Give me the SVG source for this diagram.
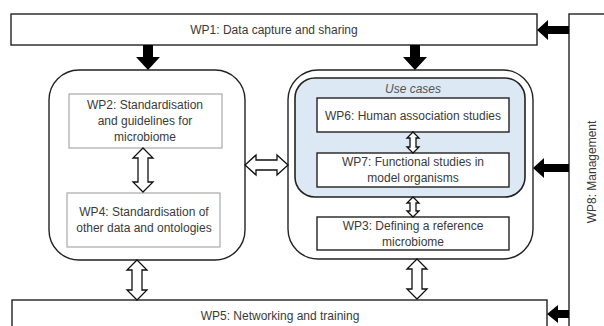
<svg xmlns="http://www.w3.org/2000/svg" width="604" height="326" viewBox="0 0 604 326">
<style>
.t{font-family:"Liberation Sans",Arial,sans-serif;font-size:12px;fill:#3a3a3a;text-anchor:middle;dominant-baseline:central}
.box{fill:#fff;stroke:#222;stroke-width:1.4}
.gbox{fill:#fff;stroke:#a8a8a8;stroke-width:1.2}
.cont{fill:#fff;stroke:#222;stroke-width:1.4}
.blue{fill:#dce8f4;stroke:#222;stroke-width:1.6}
.ha{fill:#fff;stroke:#111;stroke-width:1.3;stroke-linejoin:miter}
.ba{fill:#000;stroke:none}
</style>
<rect width="604" height="326" fill="#fff"/>
<g id="wp1"><rect class="box" x="11" y="14" width="526" height="31"/><text class="t" x="274" y="30">WP1: Data capture and sharing</text></g>
<g id="wp8"><rect class="box" x="569" y="14" width="60" height="330"/><text class="t" transform="translate(592,172) rotate(-90)">WP8: Management</text></g>
<g id="left-group"><rect class="cont" x="49" y="70" width="196" height="190" rx="30" ry="30"/></g>
<g id="wp2"><rect class="gbox" x="69" y="94" width="153" height="54"/><text class="t" x="145" y="105">WP2: Standardisation</text><text class="t" x="145" y="121">and guidelines for</text><text class="t" x="145" y="137">microbiome</text></g>
<g id="wp4"><rect class="gbox" x="67" y="193" width="153" height="54"/><text class="t" x="144" y="212">WP4: Standardisation of</text><text class="t" x="144" y="228">other data and ontologies</text></g>
<g id="right-group"><rect class="cont" x="288" y="70" width="245" height="189" rx="30" ry="30"/></g>
<g id="use-cases"><rect class="blue" x="295" y="78" width="230" height="119" rx="20" ry="20"/><text class="t" x="413" y="89" style="font-style:italic;fill:#555">Use cases</text></g>
<g id="wp6"><rect class="box" x="317" y="98" width="192" height="34"/><text class="t" x="413" y="116">WP6: Human association studies</text></g>
<g id="wp7"><rect class="box" x="317" y="153" width="192" height="34"/><text class="t" x="413" y="162">WP7: Functional studies in</text><text class="t" x="413" y="178">model organisms</text></g>
<g id="wp3"><rect class="box" x="317" y="217" width="192" height="33"/><text class="t" x="413" y="226">WP3: Defining a reference</text><text class="t" x="413" y="242">microbiome</text></g>
<g id="wp5"><rect class="box" x="12" y="300" width="535" height="40"/><text class="t" x="280" y="316">WP5: Networking and training</text></g>
<g id="connectors">
<polygon class="ba" points="143,45 153,45 153,57 160,57 148,70 136,57 143,57"/>
<polygon class="ba" points="410,45 420,45 420,57 427,57 415,70 403,57 410,57"/>
<polygon class="ba" points="569,26 548,26 548,20 537,30 548,40 548,34 569,34"/>
<polygon class="ba" points="569,164 544,164 544,158 533,168 544,178 544,172 569,172"/>
<polygon class="ba" points="569,310 558,310 558,305 547,314 558,323 558,318 569,318"/>
<polygon class="ha" points="143,148 153,158 148,158 148,182 153,182 143,192 133,182 138,182 138,158 133,158"/>
<polygon class="ha" points="137,260 147,270 142,270 142,290 147,290 137,300 127,290 132,290 132,270 127,270"/>
<polygon class="ha" points="417,259 427,269 422,269 422,289 427,289 417,299 407,289 412,289 412,269 407,269"/>
<polygon class="ha" points="245,165 256,155 256,160 277,160 277,155 288,165 277,175 277,170 256,170 256,175"/>
<polygon class="ha" points="413,132 419,138 416,138 416,147 419,147 413,153 407,147 410,147 410,138 407,138"/>
<polygon class="ha" points="413,197 419,203 416,203 416,211 419,211 413,217 407,211 410,211 410,203 407,203"/>
</g>
</svg>
